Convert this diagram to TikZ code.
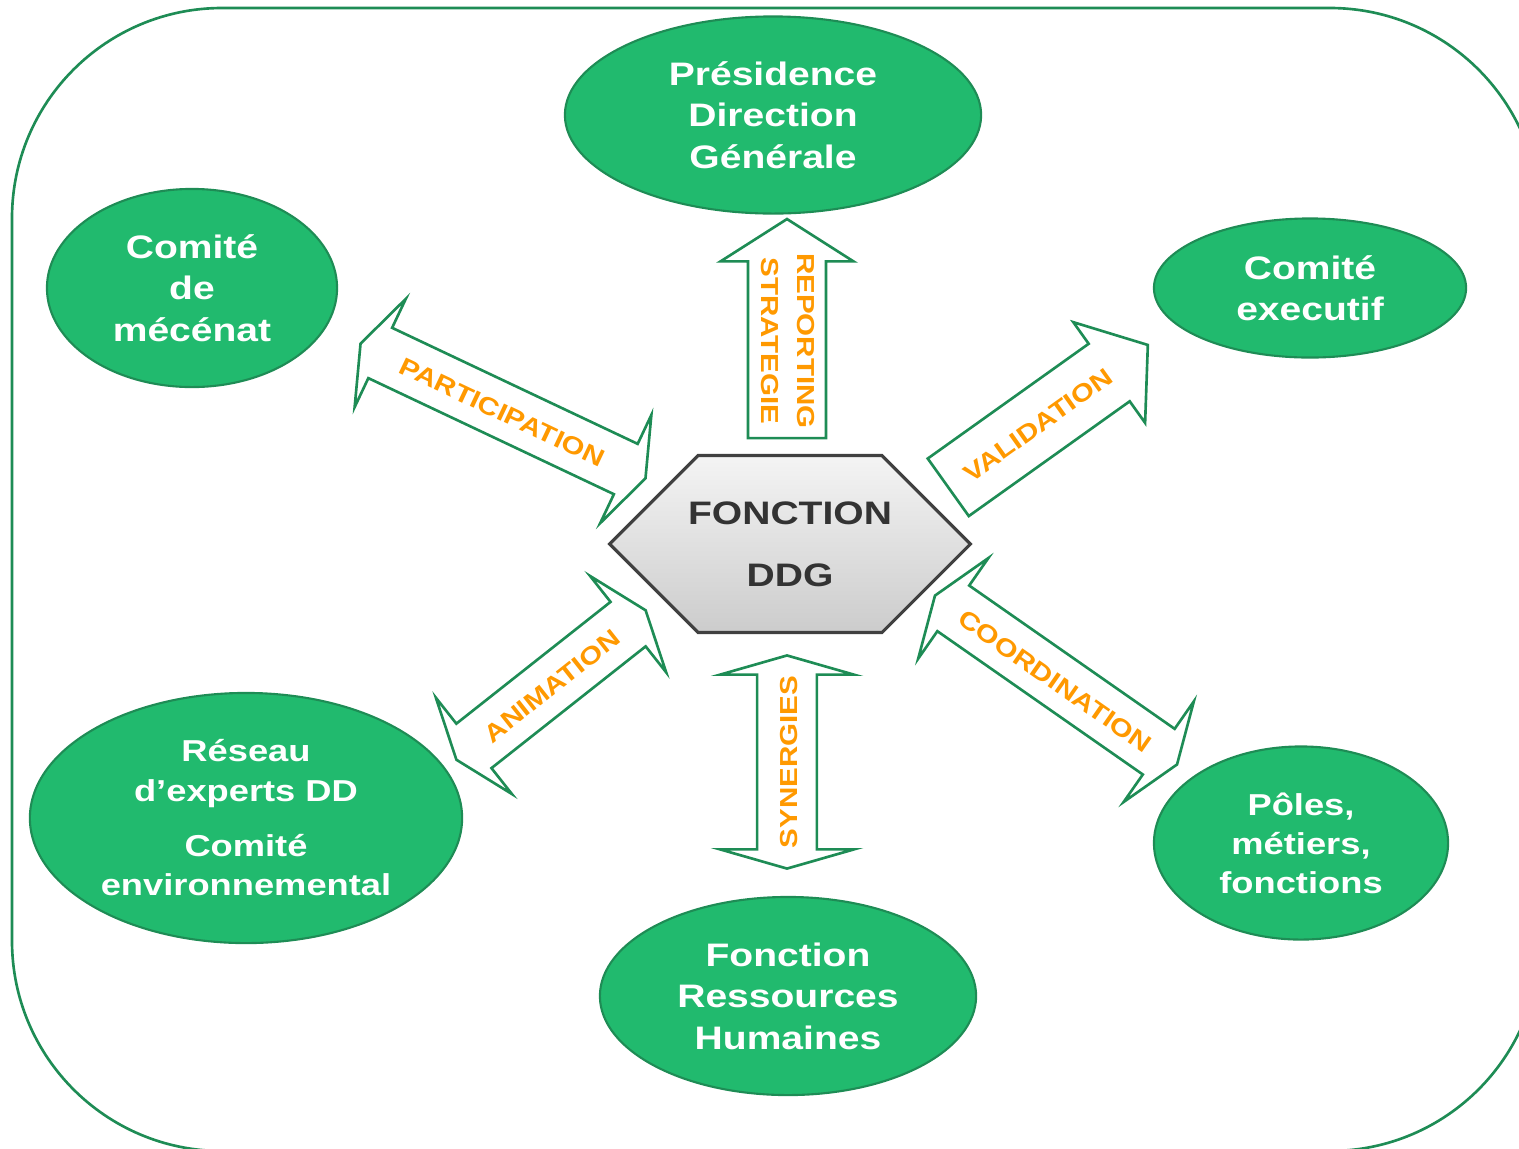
\documentclass[tikz,border=0pt]{standalone}
\usepackage{fontspec}
\setmainfont{Liberation Sans}[FakeStretch=1.2]
\usetikzlibrary{shapes.geometric,shapes.arrows,shapes.symbols}
\definecolor{ddgfill}{RGB}{33,186,110}
\definecolor{ddgedge}{RGB}{30,140,85}
\definecolor{ddgline}{RGB}{30,140,85}
\definecolor{ddgorange}{RGB}{255,153,0}
\definecolor{ddgtext}{RGB}{51,51,51}
\definecolor{hubtop}{RGB}{244,244,244}
\definecolor{hubbot}{RGB}{204,204,204}
\definecolor{hubedge}{RGB}{64,64,64}
\newcommand\blobfont{\fontsize{9.25}{11.8}\selectfont\bfseries}
\newcommand\smallblobfont{\fontsize{8.6}{11.1}\selectfont\bfseries}
\newcommand\tagfont{\fontsize{7}{10.2}\selectfont\bfseries}
\newcommand\hubfont{\fontsize{9.25}{17.6}\selectfont\bfseries}

\begin{document}
\begin{tikzpicture}[x=0.01cm,y=-0.01cm,
  blob/.style={ellipse,draw=ddgedge,line width=0.6pt,fill=ddgfill,text=white,font=\blobfont,align=center,inner sep=0pt},
  hub/.style={signal,signal to=east and west,signal pointer angle=90,draw=hubedge,line width=0.9pt,top color=hubtop,bottom color=hubbot,text=ddgtext,font=\hubfont,align=center,inner xsep=-0.1cm,inner ysep=0pt,minimum height=1.77cm},
  fleche/.style={single arrow,draw=ddgline,line width=0.75pt,fill=white,text=ddgorange,font=\tagfont,align=center,inner xsep=1pt,minimum width=0pt},
  doublefleche/.style={double arrow,draw=ddgline,line width=0.75pt,fill=white,text=ddgorange,font=\tagfont,align=center,inner xsep=1pt,text height=2mm,text depth=0pt,inner ysep=0.17cm,double arrow tip angle=140,double arrow head extend=0.33cm,minimum width=0pt}]
        \useasboundingbox (0,0) rectangle (1519,1148);
        \begin{scope}
            \clip (0,0) rectangle (1519,1148);
            \draw[ddgline,line width=0.75pt,rounded corners=2.1cm] (12,8) rectangle (1540,1151);
        \end{scope}

        \node[blob,minimum width=4.16cm,minimum height=1.97cm] (presidence) at (773,115) {Présidence\\Direction\\Générale};
        \node[blob,minimum width=2.90cm,minimum height=1.98cm] (mecenat) at (192,288) {Comité\\de\\mécénat};
        \node[blob,minimum width=3.12cm,minimum height=1.39cm] (comex) at (1310,288) {Comité\\executif};
        \node[blob,font=\smallblobfont,minimum width=4.32cm,minimum height=2.50cm] (reseau) at (246,818) {Réseau\\d’experts DD\\[4.8pt]Comité\\environnemental};
        \node[blob,minimum width=3.76cm,minimum height=1.98cm] (rh) at (788,996) {Fonction\\Ressources\\Humaines};
        \node[blob,font=\smallblobfont,minimum width=2.94cm,minimum height=1.93cm] (poles) at (1301,843) {Pôles,\\métiers,\\fonctions};

        \node[hub] (ddg) at (790,544) {FONCTION\\DDG};

        \node[fleche,rotate=90,inner ysep=0.5pt,minimum height=2.19cm,single arrow head extend=0.275cm,single arrow tip angle=115] (reporting) at (787,341) {\rotatebox{180}{\begin{tabular}{@{}c@{}}REPORTING\\STRATEGIE\end{tabular}}};
        \node[fleche,rotate=35.5,text height=2mm,text depth=0pt,inner ysep=0.24cm,minimum height=2.45cm,single arrow head extend=0.265cm,single arrow tip angle=105] (validation) at (1037,424) {VALIDATION};
        \node[doublefleche,rotate=-25.3,inner ysep=0.165cm,minimum height=3.15cm,double arrow head extend=0.32cm] (participation) at (503,411) {PARTICIPATION};
        \node[doublefleche,rotate=38.3,minimum height=2.41cm] (animation) at (551,685) {ANIMATION};
        \node[doublefleche,rotate=-34.9,inner ysep=0.165cm,minimum height=2.95cm,double arrow head extend=0.335cm] (coordination) at (1056,680) {COORDINATION};
        \node[doublefleche,rotate=90,inner ysep=0.185cm,minimum height=2.13cm,double arrow head extend=0.37cm,double arrow tip angle=148] (synergies) at (787,762) {SYNERGIES};
\end{tikzpicture}
\end{document}
